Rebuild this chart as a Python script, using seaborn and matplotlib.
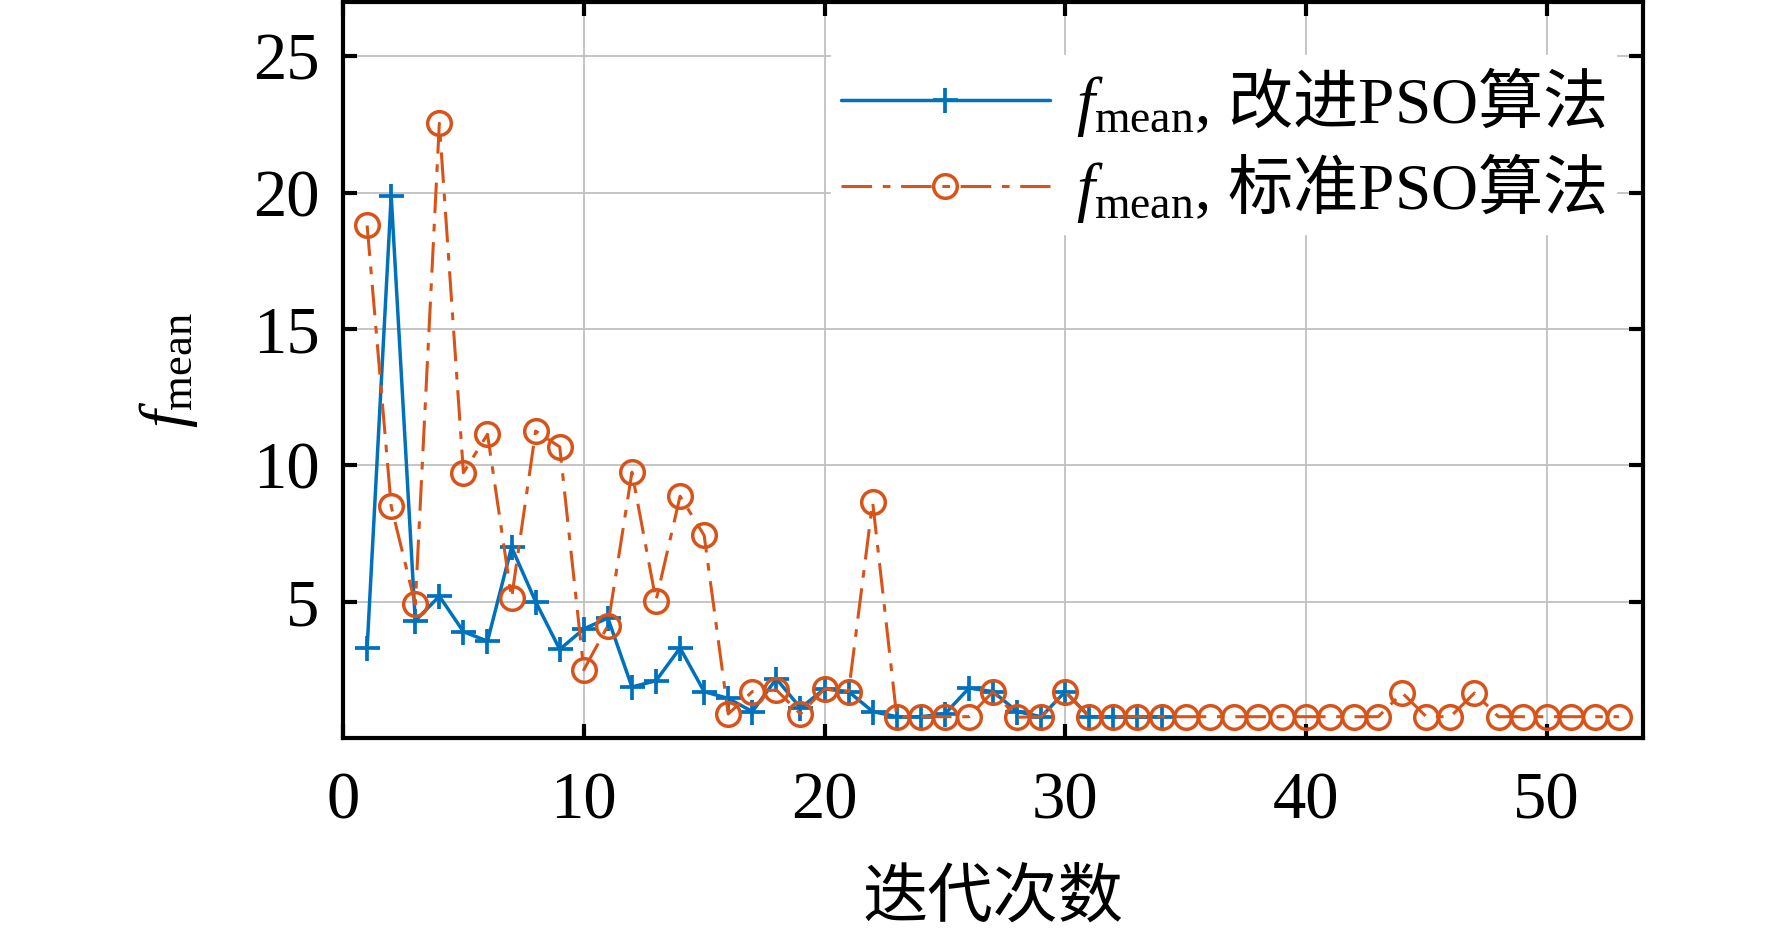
import matplotlib
matplotlib.use('Agg')
import matplotlib.pyplot as plt
import seaborn as sns
import pandas as pd

# 数据
iters_improved = list(range(1, 35))
f_improved = [3.3, 19.9, 4.3, 5.2, 3.9, 3.55, 7.0, 5.0, 3.25, 4.0,
              4.4, 1.87, 2.1, 3.3, 1.7, 1.45, 0.97, 2.17, 1.1, 1.8,
              1.7, 0.97, 0.78, 0.78, 0.88, 1.83, 1.7, 0.97, 0.78, 1.7,
              0.78, 0.78, 0.78, 0.78]

iters_standard = list(range(1, 54))
f_standard = [18.8, 8.5, 4.9, 22.55, 9.73, 11.14, 5.13, 11.26, 10.68, 2.5,
              4.12, 9.75, 5.04, 8.87, 7.43, 0.88, 1.7, 1.76, 0.88, 1.8,
              1.7, 8.65, 0.78, 0.78, 0.78, 0.78, 1.7, 0.76, 0.78, 1.7,
              0.78, 0.78, 0.78, 0.78, 0.78, 0.78, 0.78, 0.78, 0.78, 0.78,
              0.78, 0.78, 0.78, 1.65, 0.78, 0.78, 1.65, 0.78, 0.78, 0.78,
              0.78, 0.78, 0.78]

label_improved = r'$f_{\mathrm{mean}}$, $\mathsf{改进}$PSO$\mathsf{算法}$'
label_standard = r'$f_{\mathrm{mean}}$, $\mathsf{标准}$PSO$\mathsf{算法}$'

df1 = pd.DataFrame({'iter': iters_improved, 'f': f_improved})
df2 = pd.DataFrame({'iter': iters_standard, 'f': f_standard})

sns.set_style('ticks')
plt.rcParams['font.family'] = ['Liberation Serif', 'Noto Sans CJK SC']
plt.rcParams['mathtext.fontset'] = 'custom'
plt.rcParams['mathtext.rm'] = 'Liberation Serif'
plt.rcParams['mathtext.it'] = 'Liberation Serif:italic'
plt.rcParams['mathtext.bf'] = 'Liberation Serif:bold'
plt.rcParams['mathtext.sf'] = 'Noto Sans CJK SC'
plt.rcParams['axes.unicode_minus'] = False
plt.rcParams['text.color'] = 'black'
plt.rcParams['axes.labelcolor'] = 'black'
plt.rcParams['xtick.color'] = 'black'
plt.rcParams['ytick.color'] = 'black'

blue = '#0072BD'
orange = '#D95319'

fig = plt.figure(figsize=(17.72, 9.39), dpi=100)
ax = fig.add_axes([0.1936, 0.2141, 0.7336, 0.7838])

sns.lineplot(data=df1, x='iter', y='f', ax=ax, color=blue, lw=2.5,
             marker='+', markersize=18, mew=2.7, mec=blue,
             label=label_improved, zorder=3)
sns.lineplot(data=df2, x='iter', y='f', ax=ax, color=orange, lw=2.2,
             linestyle=(0, (10, 3.5, 2.5, 3.5)),
             marker='o', markersize=17, mew=2.5, mec=orange, mfc='none',
             label=label_standard, zorder=3)

ax.set_xlim(0, 54)
ax.set_ylim(0, 27)
ax.set_xticks([0, 10, 20, 30, 40, 50])
ax.set_yticks([5, 10, 15, 20, 25])
ax.grid(True, color='#c0c0c0', lw=1.3, zorder=0)
ax.set_axisbelow(True)

for sp in ax.spines.values():
    sp.set_visible(True)
    sp.set_linewidth(3)
    sp.set_color('black')
ax.tick_params(axis='both', direction='in', length=10, width=3,
               top=True, right=True, labelsize=48, colors='black')
ax.tick_params(axis='x', pad=24)
ax.tick_params(axis='y', pad=17)

ax.set_xlabel('迭代次数', fontsize=47)
ax.set_ylabel(r'$f_{\mathrm{mean}}$', fontsize=46)
ax.xaxis.set_label_coords(0.5, -0.18)
ax.yaxis.set_label_coords(-0.11, 0.5)

leg = ax.legend(loc='upper right', bbox_to_anchor=(0.979, 0.928),
                borderaxespad=0, fontsize=47, frameon=True, fancybox=False,
                framealpha=1, edgecolor='white', facecolor='white',
                handlelength=3.2, handletextpad=0.4, labelspacing=0.18,
                borderpad=0.15)
leg.set_zorder(5)

plt.savefig('out.png', dpi=100)
